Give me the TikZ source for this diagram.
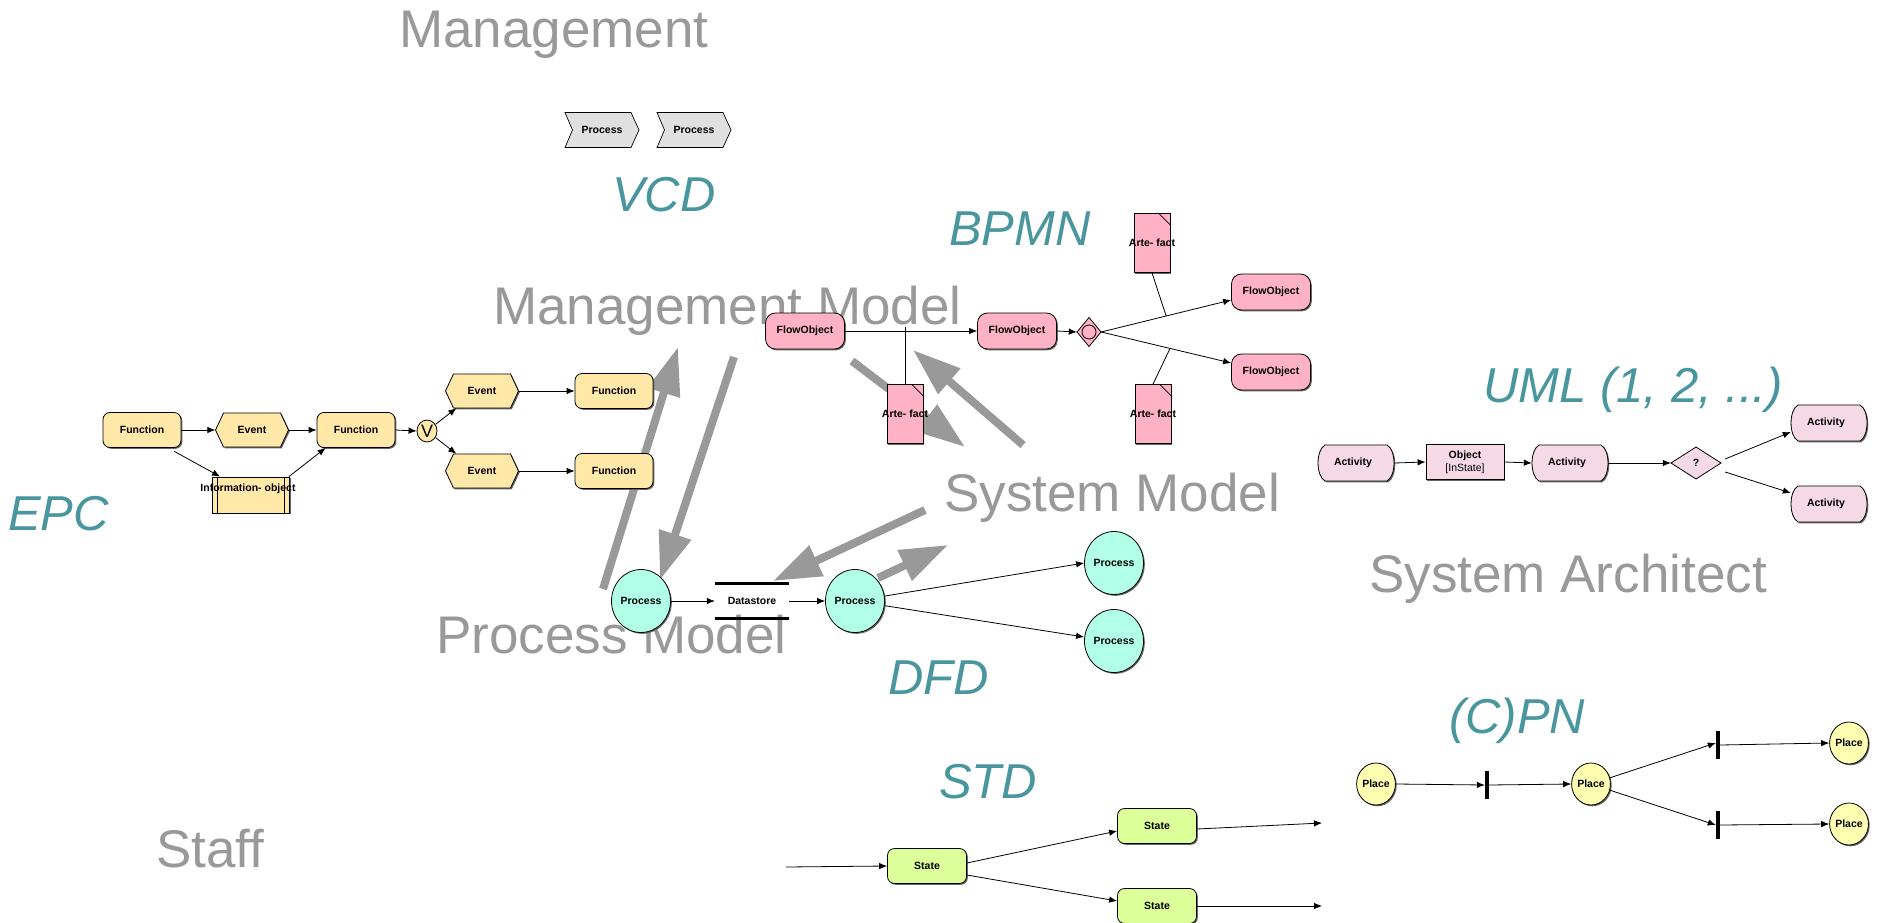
\documentclass[tikz,border=0pt]{standalone}
\usepackage{fontspec}
\setmainfont{Liberation Sans}
\usetikzlibrary{arrows.meta,shapes.geometric,shadows,calc}
\definecolor{lgray}{RGB}{153,153,153}
\definecolor{tealc}{RGB}{74,150,158}
\definecolor{epcy}{RGB}{255,232,168}
\definecolor{vcdg}{RGB}{224,224,224}
\definecolor{bpmnp}{RGB}{255,178,198}
\definecolor{umlp}{RGB}{245,218,230}
\definecolor{dfdc}{RGB}{176,255,230}
\definecolor{stdg}{RGB}{221,255,153}
\definecolor{cpny}{RGB}{255,255,178}
\newcommand\nodefont{\fontsize{10.5}{12}\selectfont\bfseries}
\tikzset{
  rolelbl/.style={font=\fontsize{53}{60}\selectfont, text=lgray, anchor=base west, inner sep=0pt},
  langlbl/.style={font=\fontsize{49}{56}\selectfont\itshape, text=tealc, anchor=base west, inner sep=0pt},
  bigarrow/.style={draw=lgray, line width=8pt, -{Triangle[length=48pt,width=32pt]}},
  shad/.style={drop shadow={shadow xshift=1.3pt,shadow yshift=-1.3pt,fill=black!60,opacity=1}},
  outl/.style={draw=black, line width=0.8pt},
  txt/.style={font=\nodefont, inner sep=0pt, text=black},
  nbox/.style={outl, txt, shad},
  fn/.style={nbox, rectangle, rounded corners=7pt, fill=epcy, minimum width=78pt, minimum height=35pt},
  fo/.style={nbox, rectangle, rounded corners=10pt, fill=bpmnp, minimum width=79pt, minimum height=36pt},
  st/.style={nbox, rectangle, rounded corners=7pt, fill=stdg, minimum width=79pt, minimum height=35pt},
  dfdp/.style={nbox, ellipse, fill=dfdc, minimum width=59pt, minimum height=63pt},
  place/.style={nbox, ellipse, fill=cpny, minimum width=38pt, minimum height=42pt},
  pntrans/.style={rectangle, fill=black, minimum width=4pt, minimum height=28pt, inner sep=0pt},
  vnode/.style={outl, ellipse, fill=epcy, minimum width=20pt, minimum height=22pt, inner sep=0pt, font=\fontsize{18}{18}\selectfont},
  artf/.style={nbox, rectangle, fill=bpmnp, minimum width=36pt, minimum height=59pt},
  iobox/.style={nbox, rectangle, fill=epcy, minimum width=77pt, minimum height=36pt},
  objbox/.style={nbox, rectangle, fill=umlp, minimum width=78pt, minimum height=35pt, align=center},
  dstore/.style={txt, rectangle, minimum width=74pt, minimum height=34pt},
  conn/.style={draw=black, line width=0.8pt, -{Latex[length=8pt,width=6.5pt]}},
  assoc/.style={draw=black, line width=0.8pt},
}
% EPC event: name, x, y
\newcommand\eventnode[3]{%
  \path[outl, fill=epcy, shad]
    ({#2-28.5},{#3-17}) -- ({#2+28.5},{#3-17}) -- ({#2+36.5},#3) -- ({#2+28.5},{#3+17})
    -- ({#2-28.5},{#3+17}) -- ({#2-36.5},#3) -- cycle;
  \node[txt, minimum width=73pt, minimum height=34pt] (#1) at (#2,#3) {Event};
}
% VCD chevron
\newcommand\chevron[3]{%
  \path[draw=black, line width=0.7pt, fill=vcdg]
    ({#2-37},{#3-17.5}) -- ({#2+29},{#3-17.5}) -- ({#2+37},#3) -- ({#2+29},{#3+17.5})
    -- ({#2-37},{#3+17.5}) -- ({#2-29.5},#3) -- cycle;
  \node[txt, minimum width=74pt, minimum height=35pt] (#1) at (#2,#3) {Process};
}
% UML activity
\newcommand\activity[3]{%
  \path[outl, fill=umlp, shad]
    ({#2-31},{#3-18}) -- ({#2+31},{#3-18})
    .. controls ({#2+40.3},{#3-13}) and ({#2+40.3},{#3+13}) .. ({#2+31},{#3+18})
    -- ({#2-31},{#3+18})
    .. controls ({#2-40.3},{#3+13}) and ({#2-40.3},{#3-13}) .. ({#2-31},{#3-18}) -- cycle;
  \node[txt, minimum width=76pt, minimum height=36pt] (#1) at (#2,#3) {\makebox[0pt]{\hspace{-6pt}Activity}};
}
% UML decision
\newcommand\decision[3]{%
  \path[outl, fill=umlp]
    ({#2-25},#3) -- (#2,{#3-16}) -- ({#2+25},#3) -- (#2,{#3+16}) -- cycle;
  \node[txt, minimum width=50pt, minimum height=32pt] (#1) at (#2,#3) {?};
}
% BPMN gateway
\newcommand\gateway[3]{%
  \path[outl, fill=bpmnp]
    ({#2-12},#3) -- (#2,{#3-14.5}) -- ({#2+12},#3) -- (#2,{#3+14.5}) -- cycle;
  \draw[line width=0.8pt] (#2,#3) circle[radius=7];
  \node[inner sep=0pt, minimum width=24pt, minimum height=29pt] (#1) at (#2,#3) {};
}
% BPMN artefact
\newcommand\artefact[3]{%
  \node[artf] (#1) at (#2,#3) {\makebox[0pt]{Arte- fact}};
  \draw[line width=0.7pt] ([xshift=-12pt]#1.north east) -- ([yshift=-12pt]#1.north east);
}
\begin{document}
\begin{tikzpicture}[x=1pt,y=-1pt]
\useasboundingbox (0,0) rectangle (1877,923);
\fill[white] (0,0) rectangle (1877,923);

% role labels
\node[rolelbl] (rMan) at (399,48) {Management};
\node[rolelbl] (rMM) at (493,324) {Management Model};
\node[rolelbl] (rSM) at (944,511) {System Model};
\node[rolelbl] (rPM) at (436,653) {Process Model};
\node[rolelbl] (rSA) at (1369,592) {System Architect};
\node[rolelbl] (rSt) at (156,867) {Staff};
% language labels
\node[langlbl] (lVCD) at (612,211) {VCD};
\node[langlbl] (lBPMN) at (949,245) {BPMN};
\node[langlbl] (lUML) at (1483,402) {UML (1, 2, ...)};
\node[langlbl] (lEPC) at (8,530) {EPC};
\node[langlbl] (lDFD) at (888,694) {DFD};
\node[langlbl] (lSTD) at (939,798) {STD};
\node[langlbl] (lCPN) at (1449,733) {(C)PN};

% big gray arrows
\coordinate (g1a) at (603,589); \coordinate (g1b) at (678,347);
\coordinate (g2a) at (734,357); \coordinate (g2b) at (660,580);
\coordinate (g3a) at (1023,445); \coordinate (g3b) at (913,350);
\coordinate (g4a) at (852,361); \coordinate (g4b) at (965,447);
\coordinate (g5a) at (925,510); \coordinate (g5b) at (773,581);
\coordinate (g6a) at (878,578); \coordinate (g6b) at (948,545);
\draw[bigarrow] (g1a) -- (g1b);
\draw[bigarrow] (g2a) -- (g2b);
\draw[bigarrow] (g3a) -- (g3b);
\draw[bigarrow] (g4a) -- (g4b);
\draw[bigarrow] (g5a) -- (g5b);
\draw[bigarrow] (g6a) -- (g6b);

% ---------- EPC ----------
\node[fn] (f1) at (142,430) {Function};
\eventnode{e1}{252}{430}
\node[fn] (f2) at (356,430) {Function};
\node[vnode] (v) at (427,431) {V};
\eventnode{e2}{482}{391}
\node[fn] (f3) at (614,391) {Function};
\eventnode{e3}{482}{471}
\node[fn] (f4) at (614,471) {Function};
\node[iobox] (io) at (251,495) {};
\draw[line width=0.7pt] ([xshift=5.5pt]io.north west) -- ([xshift=5.5pt]io.south west);
\draw[line width=0.7pt] ([xshift=-5.5pt]io.north east) -- ([xshift=-5.5pt]io.south east);
\node[txt] (iot) at (248,489) {Information- object};
\draw[conn] (f1.east) -- (e1.west);
\draw[conn] (e1.east) -- (f2.west);
\draw[conn] ([xshift=-7pt,yshift=-3.5pt]f1.south east) -- ([xshift=8pt]io.north west);
\draw[conn] ([xshift=-1pt]io.north east) -- ([xshift=9pt]f2.south west);
\draw[conn] (f2.east) -- (v.west);
\draw[conn] (v) -- ([xshift=11pt]e2.south west);
\draw[conn] (v) -- ([xshift=11pt]e3.north west);
\draw[conn] (e2.east) -- (f3.west);
\draw[conn] (e3.east) -- (f4.west);

% ---------- VCD ----------
\chevron{vp1}{602}{130}
\chevron{vp2}{694}{130}

% ---------- BPMN ----------
\node[fo] (fo1) at (805,331) {FlowObject};
\node[fo] (fo2) at (1017,331) {FlowObject};
\gateway{gw}{1089}{332}
\node[fo] (fo3) at (1271,292) {FlowObject};
\node[fo] (fo4) at (1271,372) {FlowObject};
\coordinate (fo3in) at ([yshift=-8pt]fo3.west);
\coordinate (fo4in) at ([yshift=9pt]fo4.west);
\draw[conn] (fo1.east) -- (fo2.west);
\draw[conn] (fo2.east) -- (gw.west);
\draw[conn] (gw.east) -- (fo3in);
\draw[conn] (gw.east) -- (fo4in);
\artefact{a1}{1152}{243}
\artefact{a2}{1153}{414}
\artefact{a3}{905}{414}
\coordinate (a3top) at ([yshift=4pt]a3.north |- fo1.east);
\draw[assoc] (a3.north) -- (a3top);
\draw[assoc] (a1.south) -- ($(gw.east)!0.5!(fo3in)$);
\draw[assoc] (a2.north) -- ($(gw.east)!0.53!(fo4in)$);

% ---------- UML ----------
\activity{ua1}{1356}{463}
\node[objbox] (uob) at (1465,462) {Object\\[1pt]{\mdseries [InState]}};
\activity{ua2}{1570}{463}
\decision{uq}{1696}{463}
\activity{ua3}{1829}{423}
\activity{ua4}{1829}{504}
\draw[conn] (ua1.east) -- (uob.west);
\draw[conn] (uob.east) -- (ua2.west);
\draw[conn] (ua2.east) -- (uq.west);
\draw[conn] ([xshift=4pt,yshift=4pt]uq.east) -- ([yshift=-9pt]ua3.west);
\draw[conn] ([xshift=4pt,yshift=-9pt]uq.east) -- ([yshift=11pt]ua4.west);

% ---------- DFD ----------
\node[dfdp] (dp1) at (641,601) {Process};
\node[dstore] (dst) at (752,601) {Datastore};
\draw[line width=2.8pt] (dst.north west) -- (dst.north east);
\draw[line width=2.8pt] (dst.south west) -- (dst.south east);
\node[dfdp] (dp2) at (855,601) {Process};
\node[dfdp] (dp3) at (1114,563) {Process};
\node[dfdp] (dp4) at (1114,641) {Process};
\draw[conn] (dp1.east) -- (dst.west);
\draw[conn] (dst.east) -- (dp2.west);
\draw[conn] (dp2) -- (dp3.west);
\draw[conn] (dp2) -- ([yshift=4pt]dp4.west);

% ---------- STD ----------
\node[st] (s1) at (927,866) {State};
\node[st] (s2) at (1157,826) {State};
\node[st] (s3) at (1157,906) {State};
\coordinate (sin) at (786,867);
\coordinate (so1) at (1322,823);
\coordinate (so2) at (1322,906);
\draw[conn] (sin) -- (s1.west);
\draw[conn] ([yshift=3pt]s1.east) -- ([yshift=-5pt]s2.west);
\draw[conn] ([yshift=-9pt]s1.east) -- ([yshift=5pt]s3.west);
\draw[conn] ([yshift=-3pt]s2.east) -- (so1);
\draw[conn] (s3.east) -- (so2);

% ---------- (C)PN ----------
\node[place] (c1) at (1376,784) {Place};
\node[pntrans] (t1) at (1487,785) {};
\node[place] (c2) at (1591,784) {Place};
\node[pntrans] (t2) at (1718,745) {};
\node[pntrans] (t3) at (1718,825) {};
\node[place] (c3) at (1849,743) {Place};
\node[place] (c4) at (1849,824) {Place};
\draw[conn] (c1.east) -- (t1.west);
\draw[conn] (t1.east) -- (c2.west);
\draw[conn] (c2) -- ([yshift=2pt]t2.west);
\draw[conn] (c2) -- (t3.west);
\draw[conn] (t2.east) -- (c3.west);
\draw[conn] (t3.east) -- (c4.west);
\end{tikzpicture}
\end{document}
